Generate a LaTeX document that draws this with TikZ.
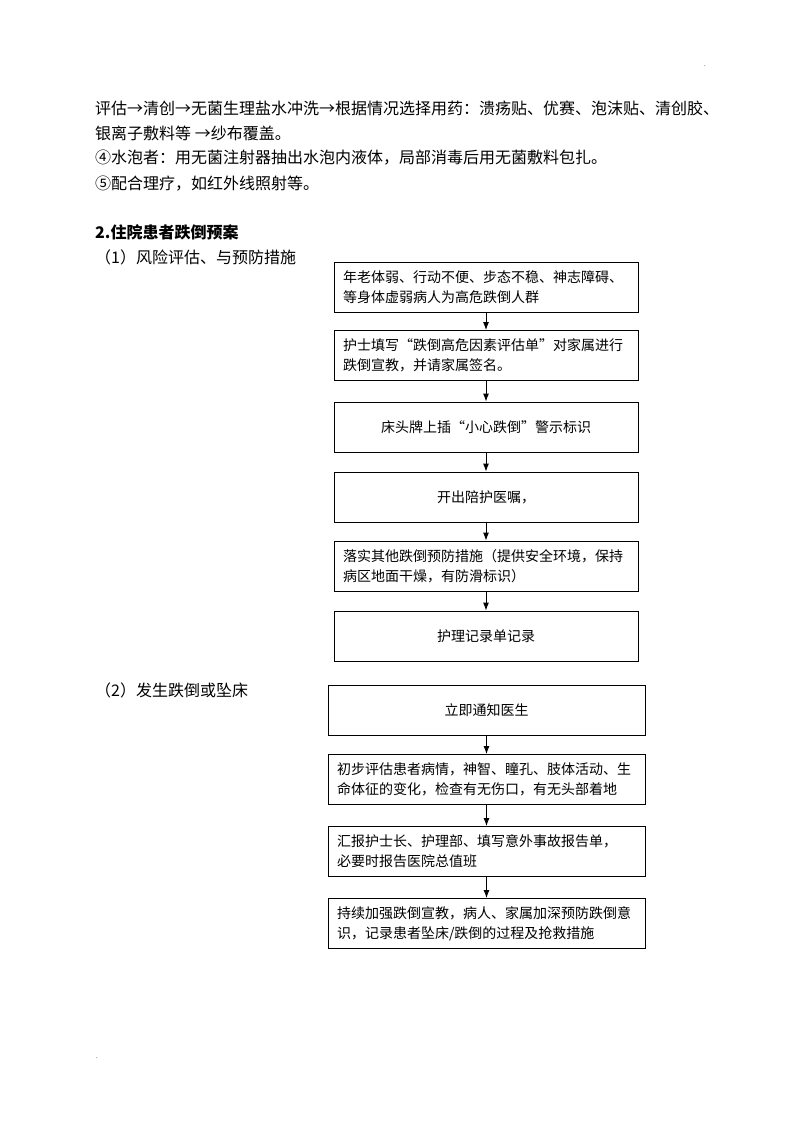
\documentclass[tikz,border=0pt]{standalone}
\usepackage{fontspec}
\setmainfont{Noto Sans CJK SC}
\usetikzlibrary{arrows.meta}

\begin{document}
\begin{tikzpicture}[x=1pt,y=-1pt,
  stepbox/.style={draw,line width=0.9pt,minimum height=50pt,inner xsep=9pt,
    font=\fontsize{14}{20}\selectfont},
  boxa/.style={stepbox,text width=286pt},
  boxb/.style={stepbox,text width=299pt},
  flow/.style={-{Latex[length=8pt,width=6pt]},line width=0.9pt},
  body/.style={anchor=west,inner sep=0pt,font=\fontsize{16}{24}\selectfont}]

      \useasboundingbox (0,0) rectangle (800,1132);

      % Page marks.
      \node[font=\fontsize{8}{8}\selectfont,text=gray] (mtop) at (705,66) {.};
      \node[font=\fontsize{8}{8}\selectfont,text=gray] (mbot) at (97,1058) {.};

      % The running text above.
      \node[body] (l1) at (95,108) {评估→清创→无菌生理盐水冲洗→根据情况选择用药：溃疡贴、优赛、泡沫贴、清创胶、};
      \node[body] (l2) at (95,133) {银离子敷料等 →纱布覆盖。};
      \node[body] (l3) at (95,158) {④水泡者：用无菌注射器抽出水泡内液体，局部消毒后用无菌敷料包扎。};
      \node[body] (l4) at (95,184) {⑤配合理疗，如红外线照射等。};

      % The headings.
      \node[body,font=\fontsize{16}{24}\selectfont\bfseries] (h2) at (95,232) {2.住院患者跌倒预案};
      \node[body] (h21) at (95,257) {（1）风险评估、与预防措施};
      \node[body] (h22) at (95,690) {（2）发生跌倒或坠床};

      % The first flow.
      \node[boxa,align=left] (a1) at (486,287.5)
      {年老体弱、行动不便、步态不稳、神志障碍、\\等身体虚弱病人为高危跌倒人群};
      \node[boxa,align=left] (a2) at (486,355.5)
      {护士填写“跌倒高危因素评估单”对家属进行\\跌倒宣教，并请家属签名。};
      \node[boxa,align=center] (a3) at (486,427) {床头牌上插“小心跌倒”警示标识};
      \node[boxa,align=center] (a4) at (486,497) {开出陪护医嘱，};
      \node[boxa,align=left] (a5) at (486,566)
      {落实其他跌倒预防措施（提供安全环境，保持\\病区地面干燥，有防滑标识）};
      \node[boxa,align=center] (a6) at (486,636) {护理记录单记录};

      \draw[flow] (a1) -- (a2);
      \draw[flow] (a2) -- (a3);
      \draw[flow] (a3) -- (a4);
      \draw[flow] (a4) -- (a5);
      \draw[flow] (a5) -- (a6);

      % The second flow.
      \node[boxb,align=center] (b1) at (486.5,710.5) {立即通知医生};
      \node[boxb,align=left] (b2) at (486.5,779.5)
      {初步评估患者病情，神智、瞳孔、肢体活动、生\\命体征的变化，检查有无伤口，有无头部着地};
      \node[boxb,align=left] (b3) at (486.5,851.5)
      {汇报护士长、护理部、填写意外事故报告单，\\必要时报告医院总值班};
      \node[boxb,align=left] (b4) at (486.5,923.5)
      {持续加强跌倒宣教，病人、家属加深预防跌倒意\\识，记录患者坠床/跌倒的过程及抢救措施};

      \draw[flow] (b1) -- (b2);
      \draw[flow] (b2) -- (b3);
      \draw[flow] (b3) -- (b4);

\end{tikzpicture}
\end{document}
